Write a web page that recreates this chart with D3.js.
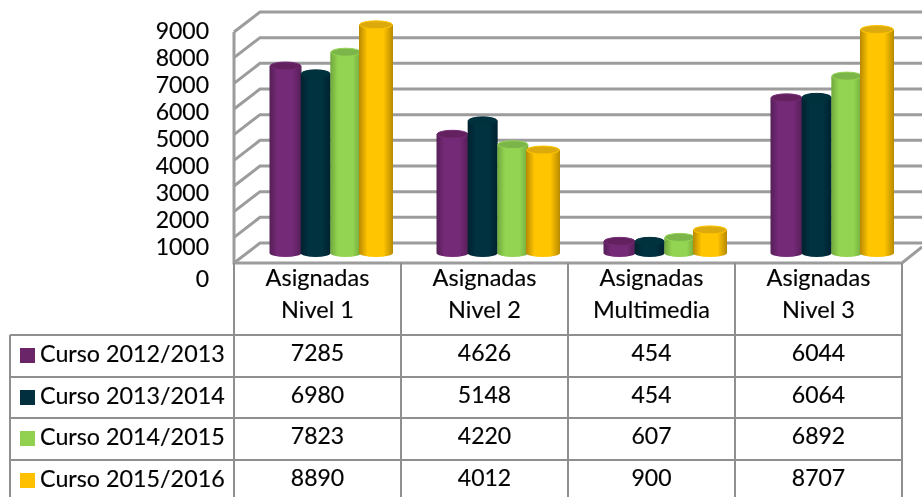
<!DOCTYPE html>
<html>
<head>
<meta charset="utf-8">
<script src="https://d3js.org/d3.v7.min.js"></script>
<style>
html, body { margin: 0; padding: 0; background: #fff; overflow: hidden; }
text { font-family: Lato, "Open Sans", sans-serif; fill: #000; stroke: #222; stroke-width: .2px; }
</style>
</head>
<body>
<div id="chart"></div>
<script>
var categories = [["Asignadas", "Nivel 1"], ["Asignadas", "Nivel 2"], ["Asignadas", "Multimedia"], ["Asignadas", "Nivel 3"]];
var series = ["Curso 2012/2013", "Curso 2013/2014", "Curso 2014/2015", "Curso 2015/2016"];
var curso2012 = [7285, 4626, 454, 6044];
var curso2013 = [6980, 5148, 454, 6064];
var curso2014 = [7823, 4220, 607, 6892];
var curso2015 = [8890, 4012, 900, 8707];
var values = [curso2012, curso2013, curso2014, curso2015];
var yTicks = [0, 1000, 2000, 3000, 4000, 5000, 6000, 7000, 8000, 9000];

var swatch = ["#6a2468", "#022f3d", "#92d050", "#ffc000"];
var edge = ["#551f56", "#01232e", "#6fa83c", "#b88900"];
var mid = ["#752a77", "#03303f", "#94d452", "#ffc500"];
var cap = ["#64245f", "#02303c", "#7cb548", "#dcaa10"];
var barW = [32, 30, 31, 34];

var width = 922, height = 497;
var left = 234, right = 902, floorY = 263, depthX = 26, depthY = 20, lineColor = "#9c9c9c", tableColor = "#8f8f8f";

var svg = d3.select("#chart").append("svg")
	.attr("width", width)
	.attr("height", height)
	.style("display", "block");

var defs = svg.append("defs");
defs.append("filter").attr("id", "soft")
	.append("feGaussianBlur").attr("stdDeviation", 0.5);

series.forEach(function (s, i) {
	var g = defs.append("linearGradient").attr("id", "cyl" + i);
	g.append("stop").attr("offset", "0%").attr("stop-color", edge[i]);
	g.append("stop").attr("offset", "25%").attr("stop-color", mid[i]);
	g.append("stop").attr("offset", "72%").attr("stop-color", mid[i]);
	g.append("stop").attr("offset", "100%").attr("stop-color", edge[i]);
});

// y on the back wall, x for the table columns
var y = d3.scaleLinear().domain([0, 9000]).range([floorY - depthY, 12]);
var x0 = d3.scaleBand().domain(d3.range(categories.length)).range([left, right]);
var x1 = d3.scalePoint().domain(d3.range(series.length)).range([-46, 44.5]);

var wall = svg.append("g").attr("filter", "url(#soft)").attr("fill", "none");

wall.selectAll(".grid")
	.data(yTicks)
	.enter().append("path")
	.attr("class", "grid")
	.attr("d", function (d) {
		var yb = y(d);
		return "M" + left + "," + (yb + depthY) + "L" + (left + depthX) + "," + yb + "H" + width;
	})
	.attr("stroke", lineColor)
	.attr("stroke-width", 3);

wall.append("path")
	.attr("d", "M" + left + "," + (y(9000) + depthY) + "V" + floorY + "H" + right + "L" + width + "," + (floorY - 16))
	.attr("stroke", lineColor)
	.attr("stroke-width", 3);

// cylinders
var groups = svg.append("g").attr("filter", "url(#soft)")
	.selectAll(".group")
	.data(categories)
	.enter().append("g")
	.attr("class", "group")
	.attr("transform", function (d, i) { return "translate(" + (x0(i) + x0.bandwidth() / 2 + 14) + ",0)"; });

var bars = groups.selectAll(".bar")
	.data(function (d, c) { return series.map(function (s, i) { return {s: i, v: values[i][c]}; }); })
	.enter().append("g")
	.attr("class", "bar")
	.attr("transform", function (d) { return "translate(" + x1(d.s) + ",0)"; });

var ry = 4;
bars.append("path")
	.attr("d", function (d) {
		var r = barW[d.s] / 2, top = y(d.v) + 10, bottom = y(0) + 10;
		return "M" + (-r) + "," + top + "V" + bottom + "A" + r + "," + ry + " 0 0 0 " + r + "," + bottom + "V" + top + "Z";
	})
	.attr("fill", function (d) { return "url(#cyl" + d.s + ")"; });

bars.append("ellipse")
	.attr("cy", function (d) { return y(d.v) + 10; })
	.attr("rx", function (d) { return barW[d.s] / 2 - 0.5; })
	.attr("ry", ry)
	.attr("fill", function (d) { return cap[d.s]; })
	.attr("stroke", function (d) { return mid[d.s]; })
	.attr("stroke-width", 1);

// y tick labels sit on the front edge, the 0 label hangs a bit lower
var yLabel = d3.scaleLinear().domain([0, 1000, 9000]).range([279, 247, 31]);
svg.append("g").selectAll(".tick")
	.data(yTicks)
	.enter().append("text")
	.attr("class", "tick")
	.attr("x", 209)
	.attr("y", function (d) { return yLabel(d); })
	.attr("dy", ".35em")
	.attr("text-anchor", "end")
	.style("font-size", "23px")
	.text(function (d) { return d; });

// data table
var rowTop = [335, 377, 418, 460];
var table = svg.append("g").attr("stroke", tableColor).attr("stroke-width", 2).attr("fill", "none");

table.selectAll(".hline")
	.data(rowTop)
	.enter().append("line")
	.attr("class", "hline")
	.attr("x1", 10)
	.attr("x2", right)
	.attr("y1", function (d) { return d; })
	.attr("y2", function (d) { return d; });

table.selectAll(".vline")
	.data(d3.range(categories.length + 1))
	.enter().append("line")
	.attr("class", "vline")
	.attr("x1", function (d) { return left + d * x0.bandwidth(); })
	.attr("x2", function (d) { return left + d * x0.bandwidth(); })
	.attr("y1", floorY)
	.attr("y2", height);

table.append("line")
	.attr("x1", 10)
	.attr("x2", 10)
	.attr("y1", 335)
	.attr("y2", height);

var catLabels = svg.append("g").selectAll(".cat")
	.data(categories)
	.enter().append("g")
	.attr("class", "cat");

catLabels.selectAll("text")
	.data(function (d, i) { return d.map(function (t, j) { return {t: t, c: i, line: j}; }); })
	.enter().append("text")
	.attr("x", function (d) { return x0(d.c) + x0.bandwidth() / 2; })
	.attr("y", function (d) { return 278 + d.line * 32; })
	.attr("dy", ".35em")
	.attr("text-anchor", "middle")
	.style("font-size", "23.5px")
	.text(function (d) { return d.t; });

var rows = svg.append("g").selectAll(".row")
	.data(series)
	.enter().append("g")
	.attr("class", "row");

rows.append("rect")
	.attr("x", 20)
	.attr("y", function (d, i) { return rowTop[i] + 13; })
	.attr("width", 15)
	.attr("height", 15)
	.attr("fill", function (d, i) { return swatch[i]; });

rows.append("text")
	.attr("x", 40)
	.attr("y", function (d, i) { return rowTop[i] + 19; })
	.attr("dy", ".35em")
	.style("font-size", "23.3px")
	.text(function (d) { return d; });

rows.selectAll(".val")
	.data(function (d, i) { return values[i].map(function (v, c) { return {v: v, c: c, r: i}; }); })
	.enter().append("text")
	.attr("class", "val")
	.attr("x", function (d) { return x0(d.c) + x0.bandwidth() / 2; })
	.attr("y", function (d) { return rowTop[d.r] + 18; })
	.attr("dy", ".35em")
	.attr("text-anchor", "middle")
	.style("font-size", "23px")
	.text(function (d) { return d.v; });
</script>
</body>
</html>
